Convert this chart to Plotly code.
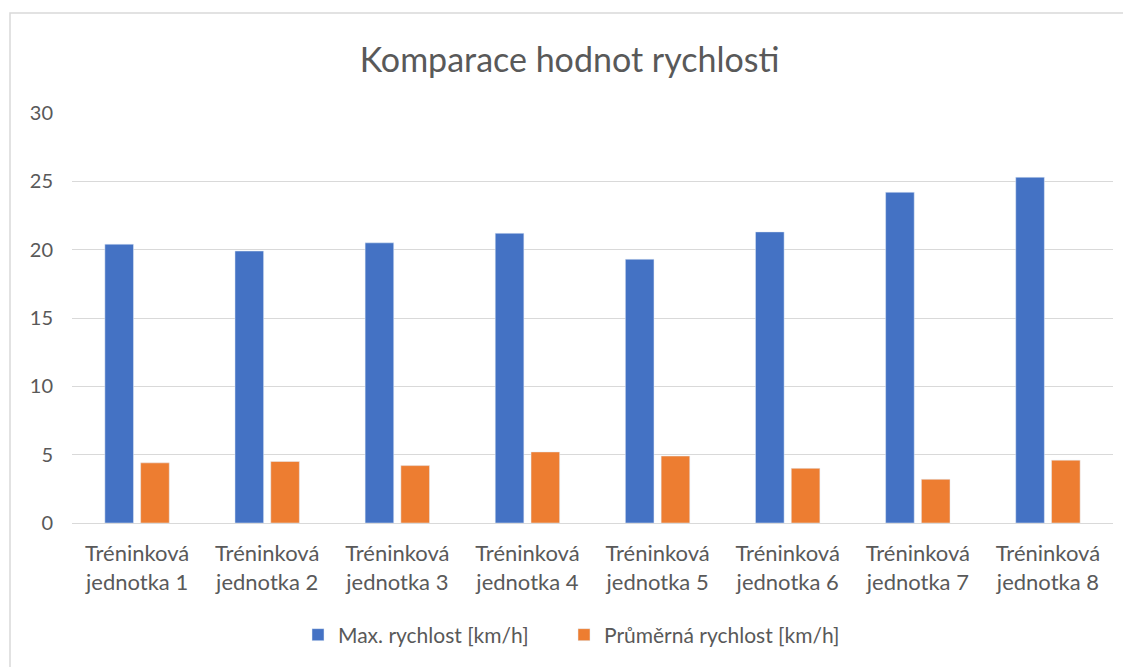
import plotly.graph_objects as go

categories = [f"Tréninková<br>jednotka {i}" for i in range(1, 9)]
max_speed = [20.4, 19.9, 20.5, 21.2, 19.3, 21.3, 24.2, 25.3]
avg_speed = [4.4, 4.5, 4.2, 5.2, 4.9, 4.0, 3.2, 4.6]

# page body has an 8px margin, so the figure is shrunk to fit the window
OFF = 8
W, H = 1131 - OFF, 667 - OFF
L, R, T, B = 72 - OFF, 18, 113 - OFF, 144
pw, ph = W - L - R, H - T - B

font = "Lato, 'Open Sans', sans-serif"
grey = "#595959"

fig = go.Figure()
fig.add_trace(go.Bar(x=categories, y=max_speed, name="Max. rychlost [km/h]",
                     marker_color="#4472c4", legend="legend", showlegend=True))
fig.add_trace(go.Bar(x=categories, y=avg_speed, name="Průměrná rychlost [km/h]",
                     marker_color="#ed7d31", legend="legend2", showlegend=True))

leg_y = (ph - (635 - 113)) / ph
leg_common = dict(orientation="h", xanchor="left", y=leg_y, yanchor="middle",
                  font=dict(size=21, color=grey), itemwidth=30)

fig.update_layout(
    width=W, height=H,
    margin=dict(l=L, r=R, t=T, b=B),
    paper_bgcolor="white", plot_bgcolor="white",
    font=dict(family=font, size=20, color=grey),
    title=dict(text="Komparace hodnot rychlosti", x=0.5, xanchor="center",
               y=1 - (60 - OFF) / H, yanchor="middle",
               font=dict(size=34, color=grey)),
    barmode="group", bargap=0.45, bargroupgap=0.2,
    showlegend=True,
    legend=dict(x=(298 - 72) / pw, **leg_common),
    legend2=dict(x=(564 - 72) / pw, **leg_common),
    shapes=[dict(type="rect", xref="paper", yref="paper",
                 x0=(10 - 72) / pw, x1=(W + 20 - L) / pw,
                 y0=(ph - H) / ph - 0.05, y1=(113 - 13) / ph + 1,
                 line=dict(color="#d9d9d9", width=1.5))],
)
fig.update_yaxes(range=[0, 30], dtick=5, showgrid=True, gridcolor="#d9d9d9",
                 gridwidth=1.3, zeroline=True, zerolinecolor="#d9d9d9",
                 zerolinewidth=1.3, showline=False, ticks="",
                 ticklabelstandoff=18, tickfont=dict(size=20, color=grey))
fig.update_xaxes(showgrid=False, showline=False, ticks="",
                 ticklabelstandoff=15, tickfont=dict(size=22, color=grey))

fig.write_html("out.html", config={"displayModeBar": False})
